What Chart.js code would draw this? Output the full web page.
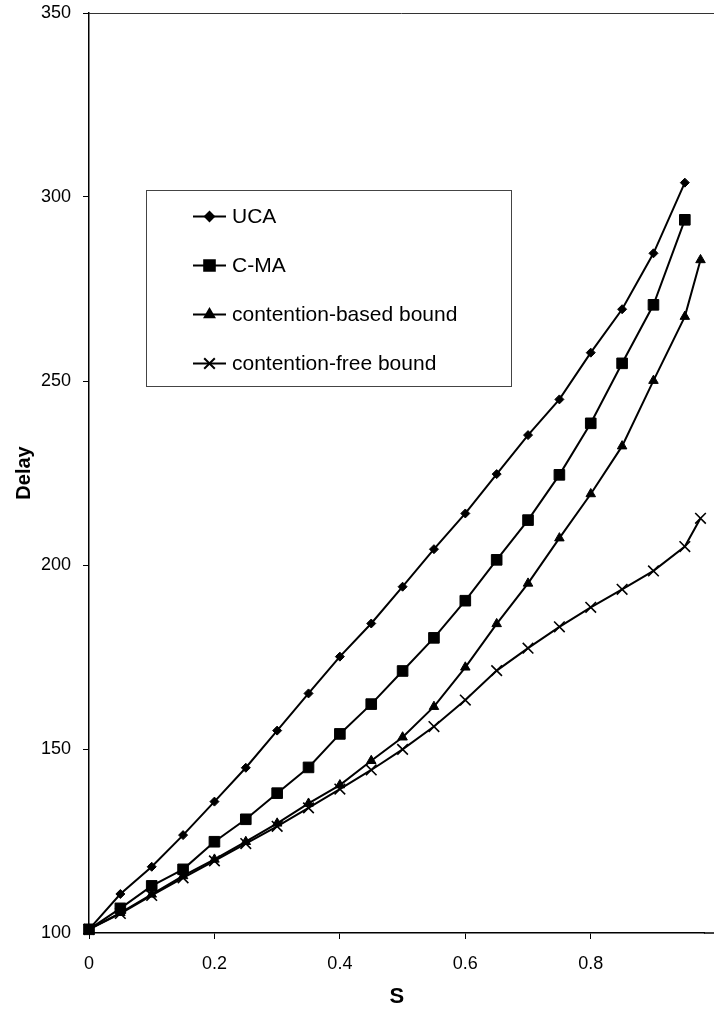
<!DOCTYPE html>
<html>
<head>
<meta charset="utf-8">
<script src="https://cdn.jsdelivr.net/npm/chart.js@4.4.1/dist/chart.umd.min.js"></script>
<style>
  html, body { margin: 0; padding: 0; background: #fff; overflow: hidden; }
  #wrap { width: 714px; height: 1010px; }
  canvas { display: block; }
</style>
</head>
<body>
<div id="wrap"><canvas id="myChart"></canvas></div>
<script>
// data
const sMain = [0, 0.05, 0.1, 0.15, 0.2, 0.25, 0.3, 0.35, 0.4, 0.45, 0.5, 0.55, 0.6, 0.65, 0.7, 0.75, 0.8, 0.85, 0.9, 0.95];
const sBound = [0, 0.05, 0.1, 0.15, 0.2, 0.25, 0.3, 0.35, 0.4, 0.45, 0.5, 0.55, 0.6, 0.65, 0.7, 0.75, 0.8, 0.85, 0.9, 0.95, 0.975];
const ucaDelay = [101, 110.6, 118.0, 126.6, 135.7, 144.9, 155.0, 165.1, 175.1, 184.1, 194.1, 204.3, 214.0, 224.7, 235.3, 245.0, 257.7, 269.5, 284.7, 303.9];
const cmaDelay = [101, 106.7, 112.8, 117.3, 124.8, 130.9, 138.0, 145.0, 154.1, 162.2, 171.2, 180.2, 190.3, 201.4, 212.2, 224.5, 238.5, 254.8, 270.7, 293.8];
const basedDelay = [101, 105.5, 110.5, 115.5, 120.0, 124.8, 129.8, 135.2, 140.2, 146.8, 153.2, 161.5, 172.2, 184.0, 195.0, 207.3, 219.3, 232.3, 250.1, 267.5, 282.9];
const freeDelay = [101, 105.3, 110.2, 115.0, 119.6, 124.3, 129.0, 134.0, 139.1, 144.3, 149.9, 156.1, 163.3, 171.3, 177.4, 183.2, 188.5, 193.4, 198.4, 205.0, 212.7];
const xTicks = [0, 0.2, 0.4, 0.6, 0.8];
const yTicks = [100, 150, 200, 250, 300, 350];

const FONT = "'Liberation Sans', Arial, Helvetica, sans-serif";

function pairs(xs, ys) {
  return ys.map((y, i) => ({ x: xs[i], y: y }));
}

function series(label, xs, ys, style, radius, bw) {
  return {
    label: label,
    data: pairs(xs, ys),
    borderColor: '#000',
    backgroundColor: '#000',
    borderWidth: 2,
    tension: 0,
    clip: false,
    pointStyle: style,
    pointRadius: radius,
    pointBorderWidth: bw,
    pointBackgroundColor: '#000',
    pointBorderColor: '#000'
  };
}

// legend box inside plot + frame lines running to the edge
const boxLegend = {
  id: 'boxLegend',
  afterDraw(chart) {
    const ctx = chart.ctx;
    const a = chart.chartArea;
    ctx.save();
    ctx.strokeStyle = '#333';
    ctx.lineWidth = 1;
    ctx.beginPath();
    ctx.moveTo(a.left, a.top + 0.5);
    ctx.lineTo(chart.width, a.top + 0.5);
    ctx.stroke();
    ctx.strokeStyle = '#000';
    ctx.lineWidth = 1.5;
    ctx.beginPath();
    ctx.moveTo(a.right - 1, a.bottom);
    ctx.lineTo(chart.width, a.bottom);
    ctx.stroke();

    const bx = 146.5, by = 190.5, bw = 365, bh = 196;
    ctx.strokeStyle = '#444';
    ctx.lineWidth = 1;
    ctx.strokeRect(bx, by, bw, bh);

    const rows = [216.5, 265.5, 314.5, 363.5];
    ctx.font = '21px ' + FONT;
    ctx.textBaseline = 'middle';
    chart.data.datasets.forEach((ds, i) => {
      const y = rows[i];
      ctx.strokeStyle = '#000';
      ctx.lineWidth = 2;
      ctx.beginPath();
      ctx.moveTo(193, y);
      ctx.lineTo(226, y);
      ctx.stroke();
      ctx.fillStyle = '#000';
      Chart.helpers.drawPoint(ctx, {
        pointStyle: ds.pointStyle,
        radius: ds.pointRadius,
        rotation: 0,
        borderWidth: ds.pointBorderWidth
      }, 209.5, y);
      ctx.fillText(ds.label, 232, y + 1);
    });
    ctx.restore();
  }
};

const config = {
  type: 'line',
  data: {
    datasets: [
      series('UCA', sMain, ucaDelay, 'rectRot', 4.5, 1),
      series('C-MA', sMain, cmaDelay, 'rect', 7.5, 1),
      series('contention-based bound', sBound, basedDelay, 'triangle', 5.5, 1),
      series('contention-free bound', sBound, freeDelay, 'crossRot', 7.5, 1.6)
    ]
  },
  options: {
    responsive: false,
    animation: false,
    layout: { padding: { top: 13, right: 0, left: 0, bottom: 0 } },
    plugins: {
      legend: { display: false },
      tooltip: { enabled: false }
    },
    scales: {
      x: {
        type: 'linear',
        min: 0,
        max: 0.982,
        afterBuildTicks: s => { s.ticks = xTicks.map(v => ({ value: v })); },
        afterFit: s => { s.height = 77; s.paddingLeft = 0; s.paddingRight = 0; },
        border: { display: true, color: '#000', width: 1.5 },
        grid: { display: true, drawOnChartArea: false, drawTicks: true, tickLength: 6, color: '#000' },
        ticks: {
          color: '#000',
          padding: 14,
          font: { family: FONT, size: 18 },
          maxRotation: 0,
          callback: v => String(v)
        },
        title: {
          display: true,
          text: 'S',
          color: '#000',
          font: { family: FONT, size: 22, weight: 'bold' },
          padding: { top: 0, bottom: 0 }
        }
      },
      y: {
        min: 100,
        max: 350,
        afterBuildTicks: s => { s.ticks = yTicks.map(v => ({ value: v })); },
        afterFit: s => { s.width = 89; s.paddingTop = 0; s.paddingBottom = 0; },
        border: { display: true, color: '#000', width: 1.5 },
        grid: { display: true, drawOnChartArea: false, drawTicks: true, tickLength: 6, color: '#000' },
        ticks: {
          color: '#000',
          padding: 12,
          font: { family: FONT, size: 18 }
        },
        title: {
          display: true,
          text: 'Delay',
          color: '#000',
          font: { family: FONT, size: 20, weight: 'bold' },
          padding: { top: 12, bottom: 0 }
        }
      }
    }
  },
  plugins: [boxLegend]
};

const canvas = document.getElementById('myChart');
canvas.width = 714;
canvas.height = 1010;
const myChart = new Chart(canvas.getContext('2d'), config);
</script>
</body>
</html>
